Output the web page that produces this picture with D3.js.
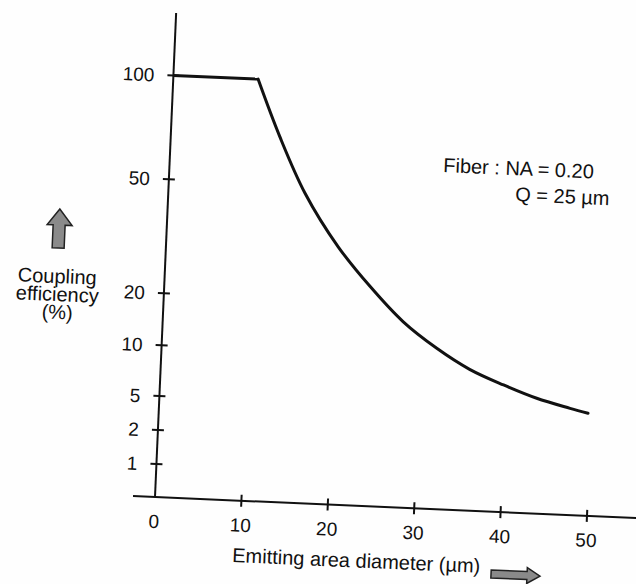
<!DOCTYPE html>
<html><head><meta charset="utf-8">
<script src="https://cdn.jsdelivr.net/npm/d3@7"></script>
<style>html,body{margin:0;padding:0;background:#fff;} svg{display:block;}</style>
</head><body><svg id="c" width="636" height="584"></svg>
<script>
// ---- data ----
const xTicks = [0, 10, 20, 30, 40, 50];
const yTicks = [0, 1, 2, 5, 10, 20, 50, 100];
const yTickLabels = ["", "1", "2", "5", "10", "20", "50", "100"];
const diameter   = [0, 9.8, 12.6, 15.8, 19.9, 23.8, 27.8, 31.8, 35.7, 39.7, 43.6, 47.5, 49.6];
const efficiency = [100, 100, 72.8, 47.9, 34.2, 24.1, 16.5, 11.7, 8.95, 7.56, 6.4, 5.56, 5.15];
const xLabel = "Emitting area diameter (\u00b5m)";
const yLabel = ["Coupling", "efficiency", "(%)"];
const note = ["Fiber : NA = 0.20", "Q = 25 \u00b5m"];

// ---- layout ----
const W = 636, H = 584;
const ox = 155, oy = 497, tilt = 2.5;
const plotW = 432.4, plotH = 422;
const tickFrac = [0, 0.0782, 0.1588, 0.2393, 0.3602, 0.4834, 0.7536, 1];
const ink = "#111";
const font = "'Liberation Sans', Arial, sans-serif";

const svg = d3.select("#c");
svg.append("rect").attr("width", W).attr("height", H).attr("fill", "#fefefe");

const x = d3.scaleLinear().domain([0, 50]).range([0, plotW]);
const y = d3.scaleLinear().domain(yTicks).range(tickFrac.map(f => -f * plotH));

const g = svg.append("g").attr("transform", `translate(${ox},${oy}) rotate(${tilt})`);

// axes lines
g.append("line").attr("x1", -22).attr("x2", 520).attr("y1", 0).attr("y2", 0)
  .attr("stroke", ink).attr("stroke-width", 2);
g.append("line").attr("x1", 0).attr("x2", 0).attr("y1", 0).attr("y2", -484.5)
  .attr("stroke", ink).attr("stroke-width", 2);

// x ticks
g.selectAll(".xt").data(xTicks.filter(d => d > 0)).join("line")
  .attr("x1", d => x(d)).attr("x2", d => x(d)).attr("y1", -6).attr("y2", 6)
  .attr("stroke", ink).attr("stroke-width", 2);
g.selectAll(".xl").data(xTicks).join("text")
  .attr("x", d => x(d)).attr("y", 31).attr("text-anchor", "middle")
  .attr("font-family", font).attr("font-size", 19)
  .attr("fill", ink).text(d => d);

// y ticks
const yt = yTicks.map((v, i) => ({v, label: yTickLabels[i]})).filter(d => d.v > 0);
g.selectAll(".yt").data(yt).join("line")
  .attr("x1", -6).attr("x2", 6).attr("y1", d => y(d.v)).attr("y2", d => y(d.v))
  .attr("stroke", ink).attr("stroke-width", 2);
g.selectAll(".yl").data(yt).join("text")
  .attr("x", -19).attr("y", d => y(d.v)).attr("dy", "0.36em").attr("text-anchor", "end")
  .attr("font-family", font).attr("font-size", 19)
  .attr("fill", ink).text(d => d.label);

// curve
const pts = diameter.map((d, i) => [x(d), y(efficiency[i])]);
g.append("path").attr("d", d3.line()(pts.slice(0, 2)))
  .attr("fill", "none").attr("stroke", ink).attr("stroke-width", 3);
g.append("path").attr("d", d3.line().curve(d3.curveCatmullRom.alpha(0.5))(pts.slice(1)))
  .attr("fill", "none").attr("stroke", ink).attr("stroke-width", 3).attr("stroke-linecap", "round");

// texts (screen coords, tilted like the scan)
function txt(s, tx, ty, anchor) {
  svg.append("text").attr("x", tx).attr("y", ty).attr("text-anchor", anchor || "start")
    .attr("transform", `rotate(${tilt},${tx},${ty})`)
    .attr("font-family", font).attr("font-size", 20)
    .attr("fill", ink).text(s);
}
txt(note[0], 443, 172);
txt(note[1], 515, 201);
txt(yLabel[0], 57, 283, "middle");
txt(yLabel[1], 57, 301, "middle");
txt(yLabel[2], 57, 319, "middle");
txt(xLabel, 232, 562);

// arrows
const arrowStyle = s => s.attr("fill", "#8a8a8a").attr("stroke", "#222").attr("stroke-width", 1.5)
  .attr("stroke-linejoin", "miter");
svg.append("path")
  .attr("d", "M59,209 L72,225 L65,225 L65,248 L53,248 L53,225 L47,225 Z")
  .attr("transform", `rotate(${tilt},59,228)`).call(arrowStyle);
svg.append("path")
  .attr("d", "M491,571 L527,571 L527,567 L540,575 L527,583 L527,579 L491,579 Z")
  .attr("transform", `rotate(${tilt},515,575)`).call(arrowStyle);
</script></body></html>
